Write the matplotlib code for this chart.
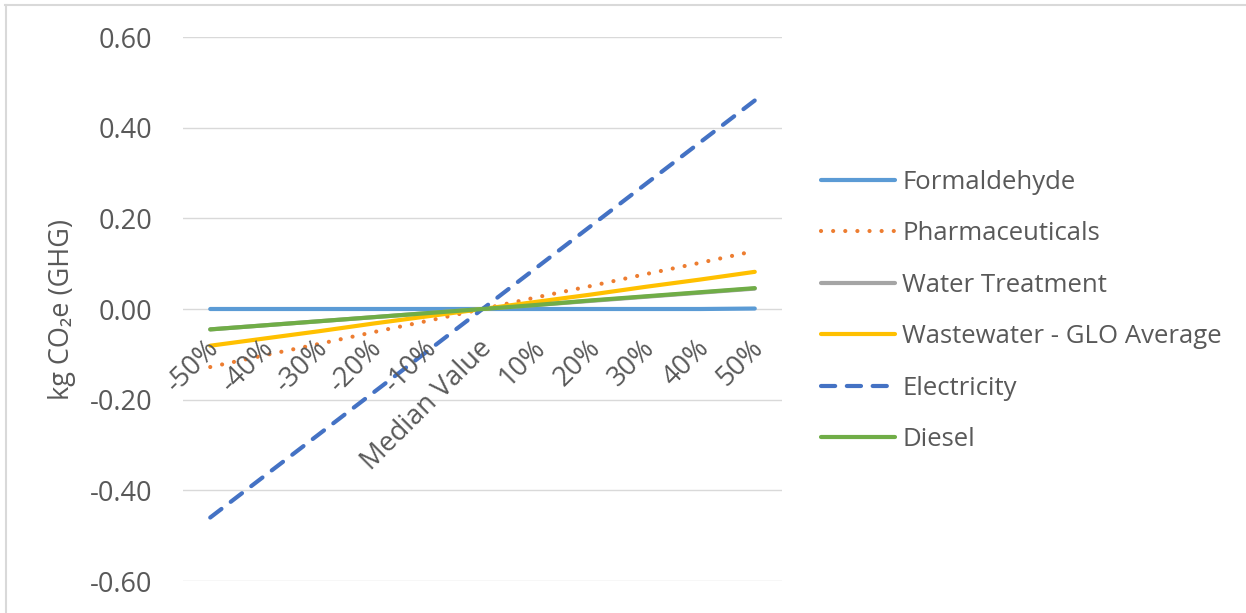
import matplotlib.pyplot as plt
from matplotlib.lines import Line2D

plt.rcParams["font.family"] = ["Open Sans", "DejaVu Sans"]

categories = ["-50%", "-40%", "-30%", "-20%", "-10%", "Median Value",
              "10%", "20%", "30%", "40%", "50%"]

formaldehyde = [0.000, 0.000, 0.000, 0.000, 0.000, 0.000, 0.000, 0.000, 0.000, 0.000, 0.001]
pharmaceuticals = [-0.128, -0.102, -0.077, -0.051, -0.026, 0.000, 0.026, 0.051, 0.077, 0.102, 0.128]
water_treatment = [-0.045, -0.036, -0.027, -0.018, -0.009, 0.000, 0.009, 0.018, 0.027, 0.036, 0.045]
wastewater = [-0.081, -0.065, -0.049, -0.032, -0.016, 0.000, 0.016, 0.032, 0.049, 0.065, 0.082]
electricity = [-0.460, -0.368, -0.276, -0.184, -0.092, 0.000, 0.092, 0.184, 0.276, 0.368, 0.460]
diesel = [-0.045, -0.036, -0.027, -0.018, -0.009, 0.000, 0.009, 0.019, 0.028, 0.037, 0.046]

TEXT = "#595959"
GRID = "#D9D9D9"
LW = 3.0

series = [
    ("Formaldehyde", formaldehyde, "#5B9BD5", "solid"),
    ("Pharmaceuticals", pharmaceuticals, "#ED7D31", (0, (0.01, 2.9))),
    ("Water Treatment", water_treatment, "#A5A5A5", "solid"),
    ("Wastewater - GLO Average", wastewater, "#FFC000", "solid"),
    ("Electricity", electricity, "#4472C4", (0, (3.4, 2.8))),
    ("Diesel", diesel, "#70AD47", "solid"),
]

fig = plt.figure(figsize=(12.46, 6.13), dpi=100)
ax = fig.add_axes([183 / 1246, 1 - 581 / 613, 599 / 1246, 544 / 613])

x = list(range(len(categories)))
handles = []
for name, vals, color, ls in series:
    ax.plot(x, vals, color=color, lw=LW, ls=ls,
            dash_capstyle="round", solid_capstyle="round")
    handles.append(Line2D([0], [0], color=color, lw=LW, ls=ls,
                          dash_capstyle="round", solid_capstyle="round"))

ax.set_xlim(-0.5, len(categories) - 0.5)
ax.set_ylim(-0.6, 0.6)
ax.set_yticks([-0.6, -0.4, -0.2, 0.0, 0.2, 0.4, 0.6])
ax.set_yticklabels([f"{v:.2f}" for v in ax.get_yticks()])
ax.yaxis.grid(True, color=GRID, lw=1.0)
ax.set_axisbelow(True)
for s in ax.spines.values():
    s.set_visible(False)
ax.tick_params(axis="y", length=0, pad=22, labelsize=19.5, labelcolor=TEXT)
ax.set_xticks([])

# category labels sit on the zero line, rotated like Excel's axis labels
for xi, lab in zip(x, categories):
    ax.annotate(lab, xy=(xi, 0), xytext=(-5, -25), textcoords="offset pixels",
                rotation=45, ha="right", va="top", rotation_mode="anchor",
                fontsize=19.5, color=TEXT)

fig.text(62 / 1246, 1 - 310 / 613, "kg CO₂e (GHG)", rotation=90,
         ha="center", va="center", fontsize=19.5, color=TEXT)

ax.legend(handles, [s[0] for s in series], loc="center left",
          bbox_to_anchor=(1.027, 0.496), frameon=False, fontsize=18.5,
          labelcolor=TEXT, handlelength=2.85, handletextpad=0.3,
          labelspacing=1.03)

# chart area border (only top and left edges fall inside the image)
fig.add_artist(Line2D([5 / 1246, 1], [1 - 5 / 613] * 2, color=GRID, lw=1.5,
                      transform=fig.transFigure))
fig.add_artist(Line2D([6 / 1246] * 2, [0, 1 - 5 / 613], color=GRID, lw=1.5,
                      transform=fig.transFigure))

fig.savefig("out.png", dpi=100)
